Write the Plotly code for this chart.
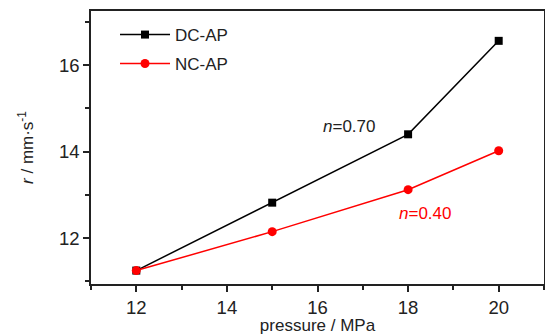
import plotly.graph_objects as go

pressure = [12, 15, 18, 20]
dc_ap = [11.25, 12.82, 14.40, 16.56]
nc_ap = [11.25, 12.15, 13.12, 14.02]
x_ticks = [12, 14, 16, 18, 20]
y_ticks = [12, 14, 16]

FONT = "Liberation Sans, Arial, sans-serif"

fig = go.Figure()
fig.add_trace(go.Scatter(x=pressure, y=dc_ap, mode="lines+markers", name="DC-AP",
                         line=dict(color="black", width=1.5),
                         marker=dict(symbol="square", size=8, color="black"),
                         legend="legend"))
fig.add_trace(go.Scatter(x=pressure, y=nc_ap, mode="lines+markers", name="NC-AP",
                         line=dict(color="red", width=1.5),
                         marker=dict(symbol="circle", size=9, color="red"),
                         legend="legend2"))

axis_common = dict(showline=True, linecolor="#222", linewidth=1.5, mirror=True,
                   ticks="outside", ticklen=6, tickwidth=1.5, tickcolor="#222",
                   showgrid=False, zeroline=False, automargin=False,
                   tickfont=dict(family=FONT, size=18.5, color="#222"))
minor = dict(ticks="outside", ticklen=4, tickwidth=1.5, tickcolor="#222", dtick=1, tick0=11)
fig.update_xaxes(range=[11, 21], tickvals=x_ticks, minor=minor, **axis_common,
                 title=dict(text="pressure / MPa", font=dict(family=FONT, size=17, color="#222"), standoff=1))
fig.update_yaxes(range=[10.94, 17.25], tickvals=y_ticks, minor=minor, **axis_common,
                 title=dict(text="<i>r</i> / mm·s<sup>-1</sup>", font=dict(family=FONT, size=17, color="#222"), standoff=21))

fig.add_annotation(x=16.70, y=14.57, text="<i>n</i>=0.70", showarrow=False,
                   font=dict(family=FONT, size=17, color="#222"))
fig.add_annotation(x=18.38, y=12.56, text="<i>n</i>=0.40", showarrow=False,
                   font=dict(family=FONT, size=17, color="red"))

leg = dict(xanchor="left", yanchor="middle", bgcolor="rgba(0,0,0,0)",
           font=dict(family=FONT, size=17, color="#222"), itemwidth=50)
fig.update_layout(width=545, height=335, plot_bgcolor="white", paper_bgcolor="white",
                  margin=dict(l=91, r=1, t=11, b=51, autoexpand=False),
                  showlegend=True,
                  legend=dict(x=0.053, y=0.912, **leg),
                  legend2=dict(x=0.053, y=0.806, **leg))

fig.write_html("out.html", config={"displayModeBar": False},
               post_script="document.body.style.margin='0';document.body.style.overflow='hidden';")
